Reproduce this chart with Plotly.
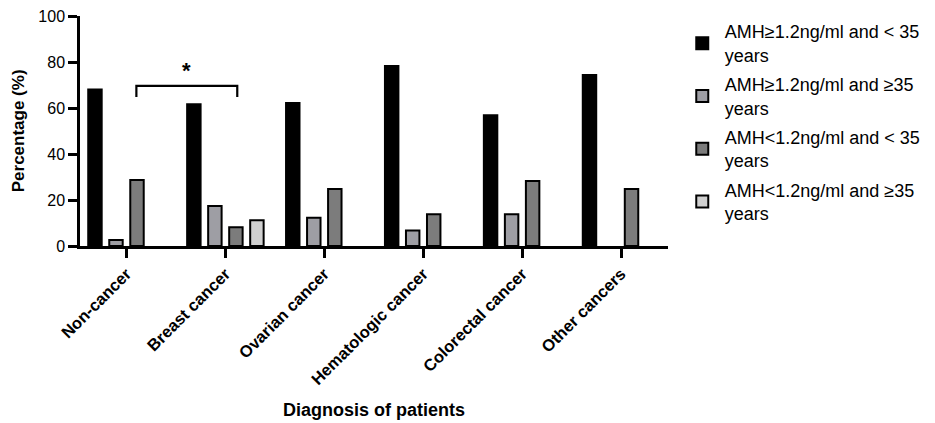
import plotly.graph_objects as go

categories = ["Non-cancer", "Breast cancer", "Ovarian cancer",
              "Hematologic cancer", "Colorectal cancer", "Other cancers"]
series_names = ["AMH≥1.2ng/ml and < 35<br>years",
                "AMH≥1.2ng/ml and ≥35<br>years",
                "AMH<1.2ng/ml and < 35<br>years",
                "AMH<1.2ng/ml and ≥35<br>years"]
amh_high_young = [68, 61.6, 62.2, 78.3, 56.8, 74.3]
amh_high_old = [2.6, 17.4, 12.3, 6.7, 13.8, None]
amh_low_young = [28.7, 8.1, 24.8, 13.8, 28.3, 24.8]
amh_low_old = [None, 11.2, None, None, None, None]
yticks = [0, 20, 40, 60, 80, 100]

series_values = [amh_high_young, amh_high_old, amh_low_young, amh_low_old]
fills = ["#000000", "#9e9ea4", "#7c7c7c", "#d0d0d0"]

FONT = "Arial, 'Liberation Sans', sans-serif"

fig = go.Figure()
for i, (name, vals, col) in enumerate(zip(series_names, series_values, fills)):
    fig.add_trace(go.Bar(
        x=categories, y=vals, name=name,
        marker=dict(color=col, line=dict(color="#000000", width=2)),
        legendgroup=f"g{i}",
    ))

# significance bracket
bx0, bx1, by_top, by_bot = 0.1, 1.12, 69.6, 64.8
fig.add_shape(type="path",
              path=f"M {bx0} {by_bot} L {bx0} {by_top} L {bx1} {by_top} L {bx1} {by_bot}",
              xref="x", yref="y", line=dict(color="#000000", width=2.2))
fig.add_annotation(x=(bx0 + bx1) / 2, y=by_top + 0.3, xref="x", yref="y",
                   text="<b>*</b>", showarrow=False, yanchor="bottom",
                   font=dict(family=FONT, size=22, color="#000000"))

# axis titles
fig.add_annotation(x=-0.105, y=0.5, xref="paper", yref="paper", textangle=-90,
                   text="<b>Percentage (%)</b>", showarrow=False,
                   xanchor="center", yanchor="middle",
                   font=dict(family=FONT, size=17, color="#000000"))
fig.add_annotation(x=0.5, y=-0.713, xref="paper", yref="paper",
                   text="<b>Diagnosis of patients</b>", showarrow=False,
                   xanchor="center", yanchor="middle",
                   font=dict(family=FONT, size=18, color="#000000"))

fig.update_layout(
    width=935, height=423,
    margin=dict(l=72, r=275, t=8, b=185, autoexpand=False),
    paper_bgcolor="white", plot_bgcolor="white",
    barmode="group", bargap=0.15, bargroupgap=0.36,
    font=dict(family=FONT, color="#000000"),
    showlegend=True,
    legend=dict(x=1.020, xanchor="left", y=1.012, yanchor="top",
                font=dict(family=FONT, size=18, color="#000000"),
                itemwidth=35,
                tracegroupgap=3, bgcolor="rgba(0,0,0,0)", maxheight=1.0),
)
fig.update_xaxes(
    range=[-0.47, 5.475], showline=True, linecolor="#000000", linewidth=2.5,
    ticks="outside", ticklen=9, tickwidth=2.5, tickcolor="#000000",
    tickangle=-45, tickfont=dict(family=FONT, size=16.5, color="#000000"),
    tickprefix="<b>", ticksuffix="</b>", showgrid=False, automargin=False,
    ticklabeloverflow="allow",
)
fig.update_yaxes(
    range=[0, 100], tickvals=yticks, showline=True, linecolor="#000000", linewidth=2.5,
    ticks="outside", ticklen=9, tickwidth=2.5, tickcolor="#000000",
    tickfont=dict(family=FONT, size=16, color="#000000"),
    tickprefix="<b>", ticksuffix="</b>", showgrid=False, zeroline=False,
    automargin=False, ticklabeloverflow="allow",
)

fig.write_html("out.html")
